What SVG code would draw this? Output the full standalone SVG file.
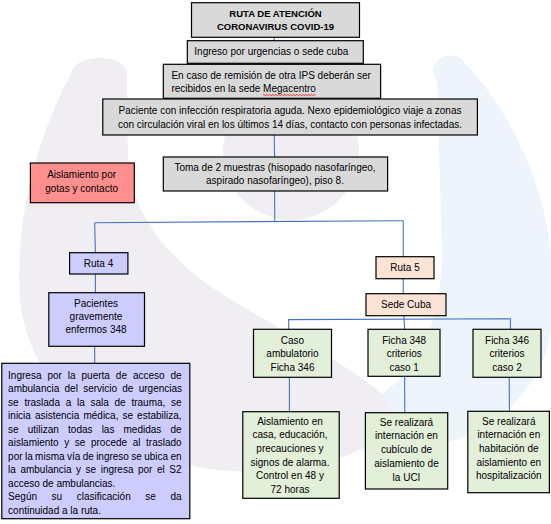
<svg xmlns="http://www.w3.org/2000/svg" width="551" height="524" viewBox="0 0 551 524">
<style>
.box{stroke:#000;stroke-width:1.2}
.g{fill:#d9d9d9}.r{fill:#ff8f8f}.p{fill:#ccccff}.o{fill:#fbe4d5}.gr{fill:#e2efd9}
text{font-family:"Liberation Sans",Arial,sans-serif;font-size:10px;fill:#000}
.c{text-anchor:middle}
.b{font-weight:bold;font-size:9.5px}
.con{fill:none;stroke:#4472c4;stroke-width:1.1}
.wm1{fill:#f0eef2}.wm2{fill:#edf4fb}
</style>
<rect width="551" height="524" fill="#fff"/>
<g id="watermark">
<path class="wm2" d="M433,72 C433,55 455,50 464,62 C520,120 560,220 551,300 L551,330 C540,400 480,445 400,452 C370,455 345,450 342,430 C340,412 360,405 380,395 C420,370 442,320 442,250 L437,80 Z"/>
<path class="wm1" d="M72,72 C75,55 122,52 127,72 L128,170 C140,230 180,270 240,305 C290,335 340,360 380,392 C395,405 392,425 380,435 C355,458 310,472 250,472 C130,470 30,400 20,300 C15,220 35,140 72,72 Z"/>
<circle class="wm1" cx="291" cy="152" r="68"/>
</g>
<g id="connectors">
<path class="con" d="M274.2,37 V49"/>
<path class="con" d="M274.2,135 L274.6,157"/>
<path class="con" d="M274.6,191 L274.8,221.6"/>
<path class="con" d="M94.7,222.7 L403.2,220.7"/>
<path class="con" d="M94.7,222.7 L95.4,252.7"/>
<path class="con" d="M403.2,220.7 V256.7"/>
<path class="con" d="M95.4,274 V292.7"/>
<path class="con" d="M94.7,346.3 V363.3"/>
<path class="con" d="M403.2,278.7 V293.7"/>
<path class="con" d="M404,315.7 L404.6,329.3"/>
<path class="con" d="M288.7,329.3 V319.6 L510.4,318.8 V329.3"/>
<path class="con" d="M289.4,377.3 V411.7"/>
<path class="con" d="M404.6,376.3 L404.8,412.7"/>
<path class="con" d="M509.2,377.3 L509.4,411.3"/>
</g>
<g id="n-title">
<rect class="box g" x="191.5" y="2.7" width="168" height="34.6"/>
<text class="c b" x="275.5" y="17">RUTA DE ATENCIÓN</text>
<text class="c b" x="275.5" y="30.3">CORONAVIRUS COVID-19</text>
</g>
<g id="n-ingreso">
<rect class="box g" x="187.3" y="40.7" width="176" height="22.6"/>
<text x="194.3" y="55.3">Ingreso por urgencias o sede cuba</text>
</g>
<g id="n-remision">
<rect class="box g" x="163.3" y="64.3" width="217.3" height="34"/>
<text x="171.4" y="79">En caso de remisión de otra IPS deberán ser</text>
<text x="171.4" y="92">recibidos en la sede Megacentro</text>
<path d="M263,95 q0.75,-1.3 1.5,0 t1.5,0 t1.5,0 t1.5,0 t1.5,0 t1.5,0 t1.5,0 t1.5,0 t1.5,0 t1.5,0 t1.5,0 t1.5,0 t1.5,0 t1.5,0 t1.5,0 t1.5,0 t1.5,0 t1.5,0 t1.5,0 t1.5,0 t1.5,0 t1.5,0 t1.5,0 t1.5,0 t1.5,0 t1.5,0 t1.5,0 t1.5,0 t1.5,0 t1.5,0 t1.5,0 t1.5,0 t1.5,0 t1.5,0 t1.5,0" fill="none" stroke="#e00" stroke-width="0.8"/>
</g>
<g id="n-paciente">
<rect class="box g" x="102.8" y="99" width="374.6" height="36"/>
<text class="c" x="290" y="114">Paciente con infección respiratoria aguda. Nexo epidemiológico viaje a zonas</text>
<text class="c" x="290" y="128">con circulación viral en los últimos 14 días, contacto con personas infectadas.</text>
</g>
<g id="n-toma">
<rect class="box g" x="163.3" y="157" width="224.3" height="34"/>
<text class="c" x="275" y="171">Toma de 2 muestras (hisopado nasofaríngeo,</text>
<text class="c" x="275" y="184">aspirado nasofaríngeo), piso 8.</text>
</g>
<g id="n-aislamiento">
<rect class="box r" x="30.4" y="163" width="103.9" height="39.7"/>
<text class="c" x="81.6" y="177.6">Aislamiento por</text>
<text class="c" x="81.6" y="192">gotas y contacto</text>
</g>
<g id="n-ruta4">
<rect class="box p" x="69.6" y="252.7" width="58.3" height="21.3"/>
<text class="c" x="98.5" y="266.6">Ruta 4</text>
</g>
<g id="n-pacientes">
<rect class="box p" x="48.8" y="292.7" width="95.7" height="53.6"/>
<text class="c" x="96" y="306.6">Pacientes</text>
<text class="c" x="96" y="320">gravemente</text>
<text class="c" x="96" y="333.3">enfermos 348</text>
</g>
<g id="n-ingresa">
<rect class="box p" x="1.8" y="363.3" width="188" height="155.4"/>
<text x="8.1" y="378.6" style="word-spacing:3.17px">Ingresa por la puerta de acceso de</text>
<text x="8.1" y="392.1" style="word-spacing:2.5px">ambulancia del servicio de urgencias</text>
<text x="8.1" y="405.7" style="word-spacing:2.95px">se traslada a la sala de trauma, se</text>
<text x="8.1" y="419.2" style="word-spacing:1.27px">inicia asistencia médica, se estabiliza,</text>
<text x="8.1" y="432.7" style="word-spacing:6.35px">se utilizan todas las medidas de</text>
<text x="8.1" y="446.3" style="word-spacing:2.8px">aislamiento y se procede al traslado</text>
<text x="8.1" y="459.8" style="word-spacing:-0.4px">por la misma vía de ingreso se ubica en</text>
<text x="8.1" y="473.3" style="word-spacing:1.74px">la ambulancia y se ingresa por el S2</text>
<text x="8.1" y="486.8">acceso de ambulancias.</text>
<text x="8.1" y="500.4" style="word-spacing:11.83px">Según su clasificación se da</text>
<text x="8.1" y="513.9">continuidad a la ruta.</text>
</g>
<g id="n-ruta5">
<rect class="box o" x="376" y="256.7" width="58" height="22"/>
<text class="c" x="405" y="271.3">Ruta 5</text>
</g>
<g id="n-sede">
<rect class="box o" x="366" y="293.7" width="80" height="22"/>
<text class="c" x="406" y="307.6">Sede Cuba</text>
</g>
<g id="n-caso">
<rect class="box gr" x="253.5" y="329.3" width="78" height="48"/>
<text class="c" x="292.5" y="344.3">Caso</text>
<text class="c" x="292.5" y="357.3">ambulatorio</text>
<text class="c" x="292.5" y="370.9">Ficha 346</text>
</g>
<g id="n-ficha348">
<rect class="box gr" x="368" y="329.3" width="72" height="47"/>
<text class="c" x="404.2" y="344.3">Ficha 348</text>
<text class="c" x="404.2" y="357.3">criterios</text>
<text class="c" x="404.2" y="370.9">caso 1</text>
</g>
<g id="n-ficha346">
<rect class="box gr" x="473" y="329.3" width="68" height="48"/>
<text class="c" x="507" y="344.3">Ficha 346</text>
<text class="c" x="507" y="357.3">criterios</text>
<text class="c" x="507" y="370.9">caso 2</text>
</g>
<g id="n-casa">
<rect class="box gr" x="242.8" y="411.7" width="96.4" height="86.6"/>
<text class="c" x="290" y="425.3">Aislamiento en</text>
<text class="c" x="290" y="438.3">casa, educación,</text>
<text class="c" x="290" y="452.3">precauciones y</text>
<text class="c" x="290" y="465.9">signos de alarma.</text>
<text class="c" x="290" y="478.9">Control en 48 y</text>
<text class="c" x="290" y="492.9">72 horas</text>
</g>
<g id="n-uci">
<rect class="box gr" x="365.4" y="412.7" width="82.3" height="76.3"/>
<text class="c" x="406.5" y="426.3">Se realizará</text>
<text class="c" x="406.5" y="439.3">internación en</text>
<text class="c" x="406.5" y="453.3">cubículo de</text>
<text class="c" x="406.5" y="466.9">aislamiento de</text>
<text class="c" x="406.5" y="480.9">la UCI</text>
</g>
<g id="n-hosp">
<rect class="box gr" x="467.8" y="411.3" width="81.6" height="81.4"/>
<text class="c" x="508.8" y="424.9">Se realizará</text>
<text class="c" x="508.8" y="437.9">internación en</text>
<text class="c" x="508.8" y="451.9">habitación de</text>
<text class="c" x="508.8" y="465.6">aislamiento en</text>
<text class="c" x="508.8" y="478.9">hospitalización</text>
</g>
</svg>
